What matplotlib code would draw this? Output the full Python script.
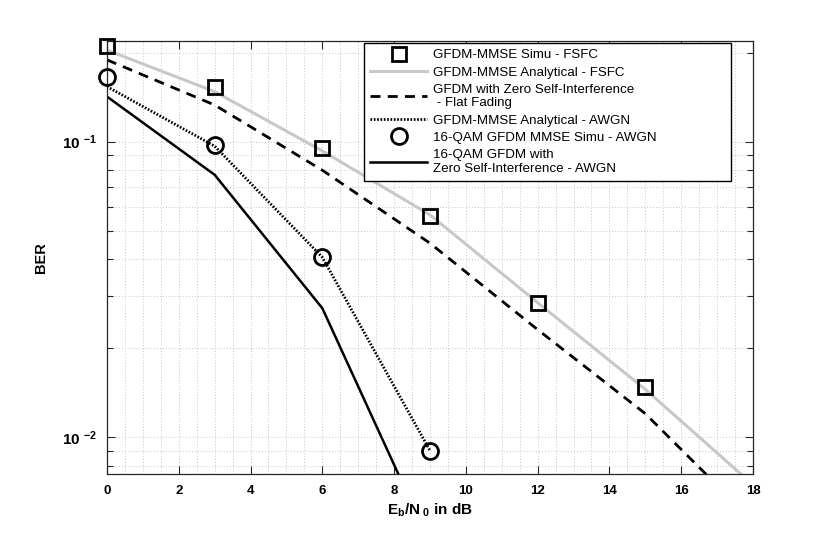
import numpy as np
import matplotlib
matplotlib.use("Agg")
import matplotlib.pyplot as plt
from matplotlib.ticker import FixedLocator, FixedFormatter, MultipleLocator, NullFormatter

plt.rcParams['font.family'] = ['Liberation Sans', 'DejaVu Sans']
plt.rcParams['mathtext.fontset'] = 'custom'
plt.rcParams['mathtext.rm'] = 'Liberation Sans:bold'
plt.rcParams['mathtext.it'] = 'Liberation Sans:bold'
plt.rcParams['mathtext.default'] = 'rm'

# ---- data ----
snr_fsfc = [0, 3, 6, 9, 12, 15]
ber_simu_fsfc = [0.2114, 0.1535, 0.0950, 0.0562, 0.0285, 0.0148]

snr_curve = [0, 3, 6, 9, 12, 15, 18]
ber_analytical_fsfc = [0.204, 0.1476, 0.0930, 0.0565, 0.0285, 0.0145, 0.0069]
ber_zero_si_flat = [0.189, 0.133, 0.080, 0.0453, 0.0231, 0.0120, 0.0052]

snr_awgn = [0, 3, 6, 9]
ber_analytical_awgn = [0.1535, 0.0965, 0.0406, 0.0090]
ber_simu_awgn = [0.166, 0.0975, 0.0406, 0.0090]
ber_zero_si_awgn = [0.142, 0.0772, 0.0273, 0.00438]

labels = ['GFDM-MMSE Simu - FSFC',
          'GFDM-MMSE Analytical - FSFC',
          'GFDM with Zero Self-Interference\n - Flat Fading',
          'GFDM-MMSE Analytical - AWGN',
          '16-QAM GFDM MMSE Simu - AWGN',
          '16-QAM GFDM with\nZero Self-Interference - AWGN']

xticks = [0, 2, 4, 6, 8, 10, 12, 14, 16, 18]
yticks = [0.01, 0.1]
ytick_labels = ['10 $^{-2}$', '10 $^{-1}$']

fig = plt.figure(figsize=(8.3, 5.33), dpi=100)
ax = fig.add_axes([0.1289, 0.1107, 0.7783, 0.8124])

h1, = ax.semilogy(snr_fsfc, ber_simu_fsfc, 's', color='k', mfc='none', ms=9.5, mew=2,
                  clip_on=False, zorder=5)
h2, = ax.semilogy(snr_curve, ber_analytical_fsfc, '-', color='#c8c8c8', lw=2.2)
h3, = ax.semilogy(snr_curve, ber_zero_si_flat, '--', color='k', lw=2, dashes=(3.6, 2.6))
h4, = ax.semilogy(snr_awgn, ber_analytical_awgn, ':', color='k', lw=2, dashes=(0.6, 0.6))
h5, = ax.semilogy(snr_awgn, ber_simu_awgn, 'o', color='k', mfc='none', ms=11.5, mew=2,
                  clip_on=False, zorder=5)
h6, = ax.semilogy(snr_awgn, ber_zero_si_awgn, '-', color='k', lw=1.8)

ax.set_xlim(0, 18)
ax.set_ylim(0.0075, 0.219)

ax.xaxis.set_major_locator(FixedLocator(xticks))
ax.xaxis.set_minor_locator(MultipleLocator(0.5))
ax.yaxis.set_major_locator(FixedLocator(yticks))
ax.yaxis.set_major_formatter(FixedFormatter(ytick_labels))
ax.yaxis.set_minor_formatter(NullFormatter())

ax.grid(True, which='both', linestyle=(0, (1, 2.5)), color='#b4b4b4', lw=0.6)
ax.tick_params(which='both', direction='in', top=True, right=True, colors='#262626',
               labelcolor='k')
ax.tick_params(which='major', length=6, width=0.8)
ax.tick_params(axis='x', which='major', labelsize=9.5, pad=8)
ax.tick_params(axis='y', which='major', labelsize=11, pad=7)
ax.tick_params(axis='y', which='minor', length=4, width=0.8)
ax.tick_params(axis='x', which='minor', length=0)
for lbl in ax.get_xticklabels() + ax.get_yticklabels():
    lbl.set_fontweight('bold')
for s in ax.spines.values():
    s.set_color('#262626')
    s.set_linewidth(0.9)

ax.set_xlabel('E$_{b}$/N$_{\\ 0}$ in dB', fontsize=11, fontweight='bold', labelpad=3)
ax.set_ylabel('BER', fontsize=10.5, fontweight='bold', labelpad=10)

leg = ax.legend([h1, h2, h3, h4, h5, h6], labels, loc='upper left',
                bbox_to_anchor=(0.398, 0.0, 0.568, 0.995), mode='expand',
                fontsize=9.6, frameon=True,
                fancybox=False, framealpha=1, edgecolor='k', labelspacing=0.38,
                handlelength=4.3, handletextpad=0.45, borderpad=0.45, borderaxespad=0)
for t in leg.get_texts():
    t.set_linespacing(1.15)
leg.get_frame().set_linewidth(1.0)

fig.savefig('out.png', dpi=100)
